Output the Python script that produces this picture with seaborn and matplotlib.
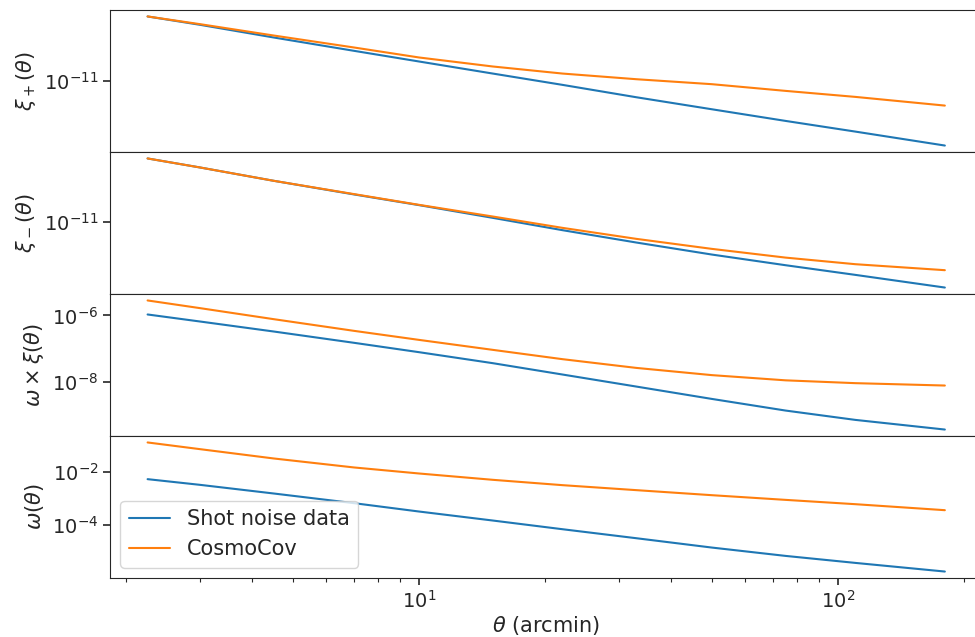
import numpy as np
import pandas as pd
import seaborn as sns
import matplotlib
matplotlib.use("Agg")
import matplotlib.pyplot as plt
from matplotlib.ticker import FixedLocator, NullLocator

# angular bins (arcmin)
theta = [2.25, 3, 4.5, 7, 10, 15, 22, 33, 50, 75, 110, 180]

# xi_plus
xip_shot = [5.36e-10, 3.21e-10, 1.47e-10, 6.47e-11, 3.36e-11, 1.60e-11,
            7.98e-12, 3.73e-12, 1.78e-12, 8.69e-13, 4.51e-13, 1.91e-13]
xip_cosmocov = [5.36e-10, 3.34e-10, 1.66e-10, 7.94e-11, 4.30e-11, 2.47e-11,
                1.60e-11, 1.13e-11, 8.32e-12, 5.51e-12, 3.81e-12, 2.23e-12]

# xi_minus
xim_shot = [4.94e-10, 2.84e-10, 1.25e-10, 5.40e-11, 2.80e-11, 1.28e-11,
            6.00e-12, 2.81e-12, 1.34e-12, 6.95e-13, 3.84e-13, 1.76e-13]
xim_cosmocov = [4.94e-10, 2.84e-10, 1.25e-10, 5.51e-11, 2.85e-11, 1.39e-11,
                6.92e-12, 3.52e-12, 1.90e-12, 1.11e-12, 7.40e-13, 5.12e-13]

# omega x xi
wxi_shot = [1.07e-6, 6.59e-7, 3.30e-7, 1.51e-7, 7.91e-8, 3.70e-8,
            1.69e-8, 7.36e-9, 3.13e-9, 1.40e-9, 7.35e-10, 3.77e-10]
wxi_cosmocov = [2.82e-6, 1.66e-6, 7.74e-7, 3.45e-7, 1.85e-7, 9.29e-8,
                4.88e-8, 2.67e-8, 1.62e-8, 1.13e-8, 9.30e-9, 7.89e-9]

# omega
w_shot = [5.33e-3, 3.27e-3, 1.55e-3, 6.73e-4, 3.28e-4, 1.51e-4,
          7.14e-5, 3.29e-5, 1.47e-5, 7.16e-6, 3.92e-6, 1.86e-6]
w_cosmocov = [0.126, 0.0708, 0.0317, 0.0146, 0.00869, 0.00504,
              0.00318, 0.00207, 0.00134, 8.95e-4, 6.17e-4, 3.68e-4]

sources = ['Shot noise data', 'CosmoCov']
ylabels = [r'$\xi_+(\theta)$', r'$\xi_-(\theta)$',
           r'$\omega\times\xi(\theta)$', r'$\omega(\theta)$']
yticks = [[1e-11], [1e-11], [1e-6, 1e-8], [1e-2, 1e-4]]
series = [(xip_shot, xip_cosmocov), (xim_shot, xim_cosmocov),
          (wxi_shot, wxi_cosmocov), (w_shot, w_cosmocov)]

sns.set_style('ticks')
plt.rcParams['font.family'] = 'DejaVu Sans'
plt.rcParams['font.size'] = 14
plt.rcParams['axes.labelsize'] = 15
plt.rcParams['legend.fontsize'] = 15
plt.rcParams['xtick.major.size'] = 5
plt.rcParams['xtick.minor.size'] = 3
plt.rcParams['ytick.major.size'] = 5
plt.rcParams['xtick.major.width'] = 1.2
plt.rcParams['ytick.major.width'] = 1.2
plt.rcParams['xtick.minor.width'] = 0.8

fig, axes = plt.subplots(4, 1, sharex=True, figsize=(9.75, 6.37), dpi=100)
fig.subplots_adjust(left=110/975, right=983/975, top=1-10/637,
                    bottom=1-578/637, hspace=0)

palette = ['#1f77b4', '#ff7f0e']

for ax, (shot, cc), ylab, ticks in zip(axes, series, ylabels, yticks):
    df = pd.DataFrame({
        'theta': theta * 2,
        'value': shot + cc,
        'source': [sources[0]] * len(theta) + [sources[1]] * len(theta),
    })
    sns.lineplot(data=df, x='theta', y='value', hue='source',
                 palette=palette, linewidth=1.5, legend=False, ax=ax)
    ax.set_xscale('log')
    ax.set_yscale('log')
    ax.yaxis.set_major_locator(FixedLocator(ticks))
    ax.yaxis.set_minor_locator(NullLocator())
    ax.set_ylabel(ylab)
    ax.set_xlabel('')

for ax in axes[:-1]:
    ax.tick_params(axis='x', which='both', bottom=False)

axes[-1].set_xlim(1.83, 222)
axes[-1].set_xlabel(r'$\theta$ (arcmin)', labelpad=1.5)
lines = axes[-1].get_lines()[:2]
axes[-1].legend(lines, sources, loc='lower left')

fig.savefig('out.png', dpi=100)
